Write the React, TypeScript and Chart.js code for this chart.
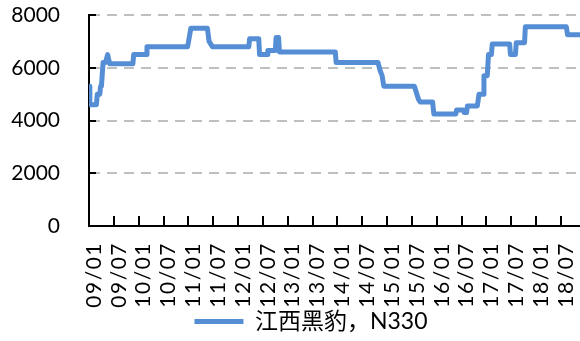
import React, { useEffect, useRef } from "react";
import { Chart, registerables } from "chart.js";

Chart.register(...registerables);

// months since 2009/01
const months = [
  0, 0.2, 1.8, 2.0, 2.6, 2.8, 3.0, 3.4, 4.0, 4.5,
  5.0, 10.6, 10.8, 13.8, 14.0, 23.8, 24.0, 24.6, 28.6, 29.0,
  29.8, 38.6, 38.8, 41.0, 41.2, 43.0, 43.2, 45.0, 45.2, 45.8,
  46.0, 59.5, 59.7, 69.8, 70.3, 70.8, 71.2, 78.6, 79.0, 79.6,
  80.0, 83.0, 83.3, 88.6, 88.8, 90.4, 90.6, 91.2, 91.4, 93.8,
  94.2, 95.2, 95.4, 96.2, 96.5, 97.2, 97.4, 101.6, 101.8, 103.0,
  103.2, 105.2, 105.4, 115.3, 115.6, 118.6,
];
const prices = [
  5300, 4600, 4600, 5000, 5000, 5300, 5300, 6200, 6200, 6500,
  6150, 6150, 6500, 6500, 6800, 6800, 6950, 7500, 7500, 7000,
  6800, 6800, 7100, 7100, 6500, 6500, 6650, 6650, 7150, 7150,
  6600, 6600, 6200, 6200, 5900, 5700, 5300, 5300, 5100, 4800,
  4700, 4700, 4250, 4250, 4400, 4400, 4300, 4300, 4550, 4550,
  5000, 5000, 5700, 5700, 6500, 6500, 6900, 6900, 6500, 6500,
  6950, 6950, 7550, 7550, 7250, 7250,
];
const xTickLabels = [
  "09/01", "09/07", "10/01", "10/07", "11/01", "11/07", "12/01", "12/07",
  "13/01", "13/07", "14/01", "14/07", "15/01", "15/07", "16/01", "16/07",
  "17/01", "17/07", "18/01", "18/07",
];
const seriesName = "江西黑豹，N330";

const FONT = "Lato, 'Noto Sans CJK SC', sans-serif";

const innerTicks = {
  id: "innerTicks",
  afterDraw(chart: any) {
    const ctx = chart.ctx;
    const x = chart.scales.x;
    const y = chart.scales.y;
    const area = chart.chartArea;
    ctx.save();
    ctx.strokeStyle = "#000";
    ctx.lineWidth = 2;
    ctx.beginPath();
    x.ticks.forEach((t: any) => {
      const px = Math.round(x.getPixelForValue(t.value));
      ctx.moveTo(px, area.bottom);
      ctx.lineTo(px, area.bottom - 10);
    });
    y.ticks.forEach((t: any) => {
      const py = Math.round(y.getPixelForValue(t.value));
      ctx.moveTo(area.left, py);
      ctx.lineTo(area.left + 7, py);
    });
    ctx.stroke();
    ctx.restore();
  },
};

const xLabelSpacing = {
  id: "xLabelSpacing",
  afterLayout(chart: any) {
    const lg = chart.legend;
    if (lg) {
      lg.left = 42;
      lg.right = 580;
      lg.top += 4;
      lg.bottom += 4;
    }
  },
  beforeDraw(chart: any) {
    const sc: any = chart.scales.x;
    if (!sc || sc._lsPatched) return;
    const orig = sc.drawLabels.bind(sc);
    sc._computeLabelArea = () => undefined;
    sc.drawLabels = (a: any) => {
      const ctx = chart.ctx;
      ctx.save();
      (ctx as any).letterSpacing = "1.5px";
      orig(a);
      ctx.restore();
    };
    sc._lsPatched = true;
  },
};

export default function App() {
  const ref = useRef<HTMLCanvasElement | null>(null);
  useEffect(() => {
    if (!ref.current) return;
    const chart = new Chart(ref.current, {
      type: "line",
      data: {
        datasets: [
          {
            label: seriesName,
            data: months.map((m, i) => ({ x: m, y: prices[i] })),
            borderColor: "#558ED5",
            backgroundColor: "#558ED5",
            borderWidth: 5,
            borderCapStyle: "round",
            borderJoinStyle: "round",
            pointRadius: 0,
            tension: 0,
          },
        ],
      },
      options: {
        animation: false,
        responsive: false,
        layout: { padding: { top: 15, right: 0, left: 0, bottom: 2 } },
        plugins: {
          tooltip: { enabled: false },
          legend: {
            position: "bottom",
            labels: {
              usePointStyle: true,
              pointStyle: "line",
              pointStyleWidth: 49,
              boxHeight: 20,
              padding: 6,
              color: "#000",
              font: { family: FONT, size: 23 },
            },
          },
        },
        scales: {
          x: {
            type: "linear",
            min: 0,
            max: 118.6,
            grid: { display: false, drawTicks: false },
            border: { display: true, color: "#000", width: 2 },
            afterBuildTicks: (s: any) => {
              s.ticks = xTickLabels.map((_, i) => ({ value: i * 6 }));
            },
            ticks: {
              autoSkip: false,
              minRotation: 90,
              maxRotation: 90,
              padding: 16,
              labelOffset: 5,
              color: "#000",
              font: { family: FONT, size: 21 },
              callback: (_v: any, i: number) => xTickLabels[i],
            },
            afterFit: (s: any) => {
              const lh = s.chart.legend ? s.chart.legend.height : 0;
              s.height = s.chart.height - 226 - lh - 2;
              s.paddingLeft = 0;
              s.paddingRight = 0;
            },
          },
          y: {
            min: 0,
            max: 8000,
            grid: { color: "#BFBFBF", lineWidth: 2, drawTicks: false },
            border: { display: true, color: "#000", width: 2, dash: [10, 7] },
            ticks: {
              stepSize: 2000,
              padding: 29,
              color: "#000",
              font: { family: FONT, size: 21 },
              callback: (v: any) => String(v),
            },
            afterFit: (s: any) => {
              s.width = 89;
              s.paddingTop = 0;
              s.paddingBottom = 0;
            },
          },
        },
      },
      plugins: [innerTicks, xLabelSpacing],
    });
    return () => chart.destroy();
  }, []);
  return (
    <div style={{ position: "fixed", left: 0, top: 0, width: 580, height: 341, background: "#fff" }}>
      <canvas ref={ref} width={580} height={341} style={{ display: "block" }} />
    </div>
  );
}
